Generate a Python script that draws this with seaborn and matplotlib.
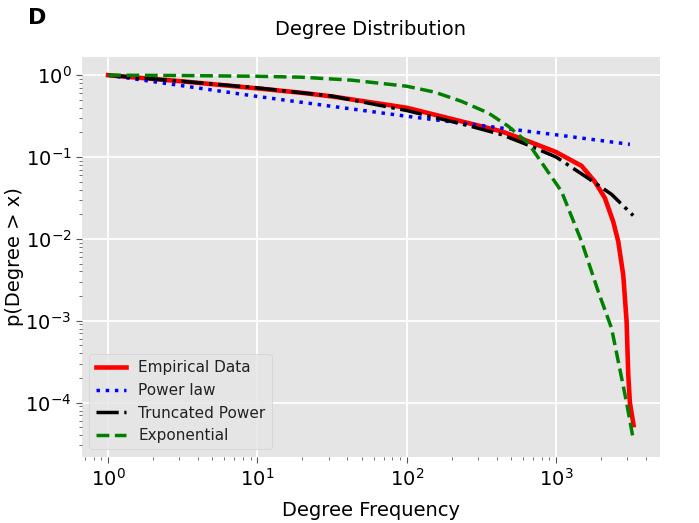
import matplotlib
matplotlib.use("Agg")
import matplotlib.pyplot as plt
import seaborn as sns
import pandas as pd

# Empirical CCDF
emp_x = [1, 3.16, 10, 19.7, 31.6, 100, 258, 431, 650, 1000, 1480, 1816, 2120, 2410, 2605, 2815, 2963, 3040, 3117, 3300]
emp_y = [1, 0.84, 0.69, 0.61, 0.55, 0.40, 0.26, 0.206, 0.156, 0.115, 0.078, 0.050, 0.0316, 0.0163, 0.0093,
         0.0036, 9.8e-4, 2.2e-4, 1.0e-4, 5.3e-5]

# Power law fit
pl_x = [1, 10, 100, 431, 1000, 3117]
pl_y = [1, 0.55, 0.315, 0.226, 0.187, 0.143]

# Truncated power law fit
tp_x = [1, 3.16, 10, 19.7, 31.6, 100, 258, 431, 650, 1000, 1640, 2350, 3280]
tp_y = [1, 0.84, 0.70, 0.61, 0.555, 0.37, 0.242, 0.188, 0.14, 0.10, 0.055, 0.035, 0.0193]

# Exponential fit
ex_x = [1, 3.16, 10, 19.7, 42.6, 100, 154, 232, 351, 478, 650, 1087, 1480, 1915, 2350, 2963, 3280]
ex_y = [1, 0.99, 0.97, 0.945, 0.87, 0.733, 0.62, 0.48, 0.346, 0.238, 0.148, 0.038, 0.0093, 0.00227,
        8.1e-4, 1.0e-4, 3.6e-5]

series = [
    ("Empirical Data", emp_x, emp_y, "red", "-", 3.3),
    ("Power law", pl_x, pl_y, "blue", ":", 2.5),
    ("Truncated Power", tp_x, tp_y, "black", "-.", 2.5),
    ("Exponential", ex_x, ex_y, "green", "--", 2.5),
]

plt.style.use("ggplot")
fig = plt.figure(figsize=(6.99, 5.23), dpi=100)
ax = fig.add_axes([0.117, 0.126, 0.827, 0.765])
ax.set_xscale("log")
ax.set_yscale("log")

for name, xs, ys, color, ls, lw in series:
    df = pd.DataFrame({"x": xs, "y": ys})
    sns.lineplot(data=df, x="x", y="y", ax=ax, color=color, linestyle=ls,
                 linewidth=lw, label=name, estimator=None, sort=False)

ax.set_facecolor("#E5E5E5")
ax.grid(True, which="major", color="white", linewidth=1.3)
ax.grid(False, which="minor")
for s in ax.spines.values():
    s.set_visible(False)
ax.tick_params(axis="both", which="major", labelsize=14, colors="#555555",
               labelcolor="black", direction="out", length=4)
ax.tick_params(axis="both", which="minor", colors="#555555", direction="out", length=2)

ax.set_title("Degree Distribution", fontsize=14, color="black", pad=16)
ax.set_xlabel("Degree Frequency", fontsize=14, color="black", labelpad=8)
ax.set_ylabel("p(Degree > x)", fontsize=14, color="black", labelpad=1)

leg = ax.legend(loc="lower left", fontsize=11, facecolor="#E5E5E5",
                edgecolor="#CCCCCC", framealpha=0.8)
for t in leg.get_texts():
    t.set_color("#222222")

fig.text(0.04, 0.955, "D", fontsize=16, fontweight="bold", color="black")

fig.savefig("out.png", dpi=100)
